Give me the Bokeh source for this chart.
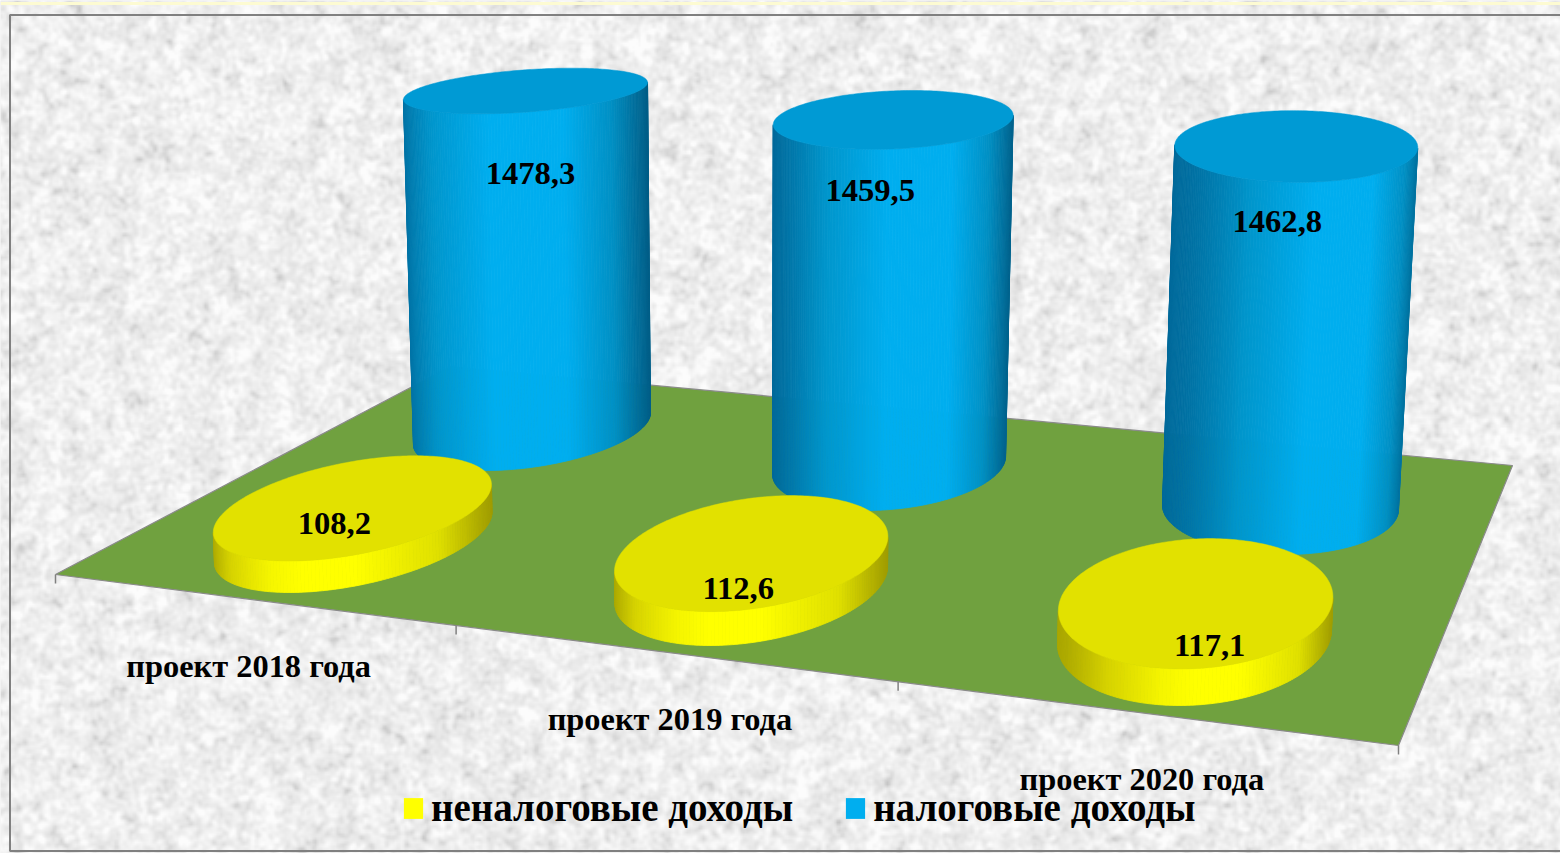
import numpy as np
from bokeh.plotting import figure
from bokeh.models import Range1d, Legend, LegendItem
from bokeh.core.properties import value
from bokeh.embed import file_html
from bokeh.resources import INLINE

categories = ["проект 2018 года", "проект 2019 года", "проект 2020 года"]
series_names = ["неналоговые доходы", "налоговые доходы"]
nontax = [108.2, 112.6, 117.1]
tax = [1478.3, 1459.5, 1462.8]
nontax_labels = ["108,2", "112,6", "117,1"]
tax_labels = ["1478,3", "1459,5", "1462,8"]

W, H = 1560, 853
FONT = "Liberation Serif"
# floor corners on the page: front-left, front-right, back-right, back-left
CORNERS = np.array([[55, 574], [1398, 745], [1512, 465], [413, 385]], float)
FLOOR_OUTLINE = np.array([[55, 574], [1398, 745], [1512, 465], [450, 366]], float)
# camera: columns converge on x = VP_X, planes at height h tend to the line HZ_A + HZ_B (x - 900)
VP_X = 748.0
SPREAD = 0.030 / 1480.0
LIFT = 0.545 / 1478.3
HZ_A, HZ_B = -159.0, 0.0605
# base of each column on the floor, unit square
TAX_BASE = [(0.1661, 0.8995, 0.0812, 0.3223), (0.5126, 0.9020, 0.0787, 0.3497), (0.8368, 0.9037, 0.0811, 0.3709)]
TAX_TILT = [-27.5, -18.5, -6.5]
# foot of the tall columns: half height and tilt of its outline
FOOT_HALF = [41.5, 45.0, 47.0]
FOOT_TILT = [-16.0, -9.0, 2.0]
NONTAX_BASE = [(0.1837, 0.2745, 0.1011, 0.2421), (0.5304, 0.2616, 0.0930, 0.2310), (0.8500, 0.2511, 0.0849, 0.2241)]
# shading: exponent that moves the bright band across each column
TAX_GAMMA = [0.79, 1.07, 1.41]
NONTAX_GAMMA = [0.76, 0.82, 1.23]
TICK_U = [0.0, 0.363, 0.693, 1.0]
TAX_DXY = [(5, 83), (-23, 71), (-19, 75)]
NONTAX_DXY = [(-18, 15), (-13, 35), (14, 42)]
CAT_DX = [2.5, 3.5, 6]
CAT_DY = 67


def solve_h():
    src = [(0, 0), (1, 0), (1, 1), (0, 1)]
    A, b = [], []
    for (u, v), (x, y) in zip(src, CORNERS):
        A.append([u, v, 1, 0, 0, 0, -u * x, -v * x]); b.append(x)
        A.append([0, 0, 0, u, v, 1, -u * y, -v * y]); b.append(y)
    return np.append(np.linalg.solve(np.array(A), np.array(b)), 1.0).reshape(3, 3)


HG = solve_h()


def floor_xy(u, v):
    u, v = np.asarray(u, float), np.asarray(v, float)
    w = HG[2, 0] * u + HG[2, 1] * v + 1.0
    return (HG[0, 0] * u + HG[0, 1] * v + HG[0, 2]) / w, (HG[1, 0] * u + HG[1, 1] * v + HG[1, 2]) / w


def lift(x0, y0, h=0.0):
    hz = HZ_A + HZ_B * (x0 - 900.0)
    return x0 + (x0 - VP_X) * SPREAD * h, y0 - LIFT * h * (y0 - hz)


def gradient(stops, f):
    pos = [s[0] for s in stops]
    rgb = [np.interp(f, pos, [int(s[1][i:i + 2], 16) for s in stops]) for i in (1, 3, 5)]
    return "#%02x%02x%02x" % tuple(int(round(c)) for c in rgb)


BLUE_STOPS = [(0, "#00699a"), (0.2, "#0096cc"), (0.45, "#00aeef"), (0.72, "#00aeef"), (0.88, "#0090c4"), (1, "#005c85")]
YEL_STOPS = [(0, "#aaa600"), (0.12, "#d6d200"), (0.3, "#f5f500"), (0.42, "#ffff00"), (0.6, "#ffff00"), (0.85, "#e0e000"), (1, "#a09c00")]

p = figure(width=W, height=H, x_range=Range1d(0, W), y_range=Range1d(H, 0),
           output_backend="svg", toolbar_location=None, min_border=0, outline_line_color=None,
           background_fill_color="#eeeeee", border_fill_color=None)
p.xaxis.visible = False
p.yaxis.visible = False
p.grid.visible = False

# paper-like background texture: hashed grain, blurred in two sizes
ny, nx = H // 2, W // 2
yy, xx = np.mgrid[0:ny, 0:nx].astype(float)
grain = np.modf(np.sin(xx * 12.9898 + yy * 78.233) * 43758.5453)[0]
grain = np.modf(np.sin(grain * 91.7 + xx * 0.317 + yy * 0.771) * 24634.6345)[0]
fy = np.fft.fftfreq(ny)[:, None]
fx = np.fft.fftfreq(nx)[None, :]
G = np.fft.fft2(grain - grain.mean())


def blurred(sigma):
    out = np.real(np.fft.ifft2(G * np.exp(-2 * (np.pi * sigma) ** 2 * (fx ** 2 + fy ** 2))))
    return out / out.std()


n = 0.9 * blurred(1.0) + 0.35 * blurred(3.0)
g = np.clip(239 + 6 * n - 1.5 * np.maximum(0, -n - 1.0) ** 2, 195, 252).astype(np.uint32)
img = (np.uint32(255) << 24) | (g << 16) | (g << 8) | g
p.image_rgba(image=[img.astype(np.uint32)], x=0, y=0, dw=W, dh=H)

# frame
p.line([0, W], [3, 3], line_color="#fdfbd2", line_width=3)
p.line([9.5, 9.5, W + 5], [850.5, 14.5, 14.5], line_color="#808080", line_width=2)
p.line([9, W], [850.5, 850.5], line_color="#808080", line_width=2)

# floor
p.patch(FLOOR_OUTLINE[:, 0], FLOOR_OUTLINE[:, 1], fill_color="#70a13f", line_color="#8a8a8a", line_width=1.2)
for tu in TICK_U:
    tx0, ty0 = floor_xy(tu, 0.0)
    p.line([tx0, tx0], [ty0, ty0 + 9], line_color="#808080", line_width=1.5)

# cylinders
TH = np.linspace(0, 2 * np.pi, 241)


def cylinder(base, val, stops, cap, gamma, tilt=None, foot=None):
    uc, vc, ru, rv = base
    x0, y0 = floor_xy(uc + ru * np.cos(TH), vc + rv * np.sin(TH))
    bx, by = x0, y0
    if tilt is not None:
        cx0, cy0 = (x0.min() + x0.max()) / 2, (y0.min() + y0.max()) / 2
        ax0, ay0 = (x0.max() - x0.min()) / 2, (y0.max() - y0.min()) / 2
        ybottom = y0.max()
        x0 = cx0 + ax0 * np.cos(TH)
        y0 = cy0 - np.sqrt(ay0 ** 2 - tilt ** 2) * np.sin(TH) + tilt * np.cos(TH)
        half, ftilt = foot
        bx = x0
        by = ybottom - half - np.sqrt(half ** 2 - ftilt ** 2) * np.sin(TH) + ftilt * np.cos(TH)
    tx, ty = lift(x0, y0, val)
    xmin, xmax = min(bx.min(), tx.min()), max(bx.max(), tx.max())
    xs, ys, cols = [], [], []
    for j in range(len(TH) - 1):
        cross = (bx[j + 1] - bx[j]) * (ty[j] - by[j]) - (by[j + 1] - by[j]) * (tx[j] - bx[j])
        if cross < 0:
            xs.append([bx[j], bx[j + 1], tx[j + 1], tx[j]])
            ys.append([by[j], by[j + 1], ty[j + 1], ty[j]])
            m = 0.25 * (bx[j] + bx[j + 1] + tx[j] + tx[j + 1])
            cols.append(gradient(stops, ((m - xmin) / (xmax - xmin)) ** gamma))
    p.patches(xs, ys, fill_color=cols, line_color=cols, line_width=0.8)
    p.patch(tx, ty, fill_color=cap, line_color=cap, line_width=0.5)
    return (tx.min() + tx.max()) / 2, (ty.min() + ty.max()) / 2


tax_cap = [cylinder(TAX_BASE[i], tax[i], BLUE_STOPS, "#009ad4", TAX_GAMMA[i], TAX_TILT[i], (FOOT_HALF[i], FOOT_TILT[i])) for i in range(3)]
nontax_cap = [cylinder(NONTAX_BASE[i], nontax[i], YEL_STOPS, "#e2e100", NONTAX_GAMMA[i]) for i in range(3)]

# value labels
font = value(FONT)
for caps, labs, dxy in ((tax_cap, tax_labels, TAX_DXY), (nontax_cap, nontax_labels, NONTAX_DXY)):
    p.text([c[0] + d[0] for c, d in zip(caps, dxy)], [c[1] + d[1] for c, d in zip(caps, dxy)],
           text=labs, text_font=font, text_font_style="bold", text_font_size="32.6px",
           text_align="center", text_baseline="middle", text_color="#000000")

# category labels
cu = [(TICK_U[i] + TICK_U[i + 1]) / 2 for i in range(3)]
cx, cy = floor_xy(cu, [0.0] * 3)
p.text(cx + np.array(CAT_DX), cy + CAT_DY, text=categories, text_font=font, text_font_style="bold",
       text_font_size="32.4px", text_align="center", text_baseline="middle", text_color="#000000")

# legend
r1 = p.quad(left=[-50], right=[-40], top=[-50], bottom=[-40], fill_color="#ffff00", line_color=None)
r2 = p.quad(left=[-50], right=[-40], top=[-50], bottom=[-40], fill_color="#00aeef", line_color=None)
legend = Legend(items=[LegendItem(label=series_names[0], renderers=[r1]),
                       LegendItem(label=series_names[1], renderers=[r2])],
                orientation="horizontal", location=(401, 23), border_line_color=None,
                background_fill_alpha=0, label_text_font=FONT, label_text_font_style="bold",
                label_text_font_size="39px", glyph_width=24, glyph_height=26, label_standoff=6,
                spacing=50, padding=0, margin=0, label_text_color="#000000")
p.add_layout(legend, "center")

open("out.html", "w").write(file_html(p, INLINE))
